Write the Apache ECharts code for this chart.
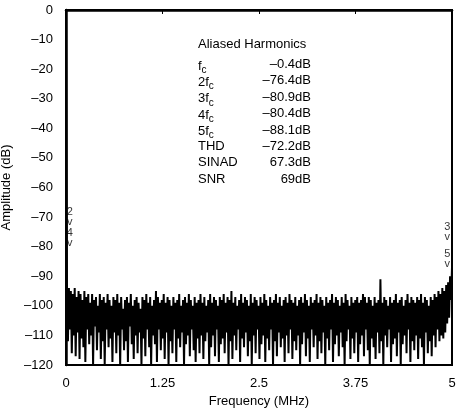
<!DOCTYPE html>
<html>
<head>
<meta charset="utf-8">
<script src="https://cdn.jsdelivr.net/npm/echarts@6/dist/echarts.min.js"></script>
<style>html,body{margin:0;padding:0;background:#fff}#c{width:456px;height:416px}</style>
</head>
<body>
<div id="c"></div>
<script>
// ---- data ----
const xTicks = [0, 1.25, 2.5, 3.75, 5];
const yTicks = [0, -10, -20, -30, -40, -50, -60, -70, -80, -90, -100, -110, -120];
const freqMax = 5; // MHz, span of the FFT record
// FFT magnitude (dB), evenly spaced bins from 0 to 5 MHz, estimated from the trace
const spectrum = [
-0.4,-93,-112,-94,-108,-95,-116,-96,-110,-94,-117,-97,-109,-95,-118,-96,-111,-98,-114,-95,
-119,-97,-108,-96,-113,-99,-110,-96,-120,-98,-107,-97,-115,-100,-109,-96,-118,-98,-112,-97,
-120,-99,-108,-96,-114,-98,-111,-100,-119,-97,-109,-98,-116,-96,-110,-99,-120,-97,-108,-101,
-115,-98,-112,-97,-119,-99,-107,-96,-113,-100,-118,-98,-110,-97,-116,-99,-109,-101,-120,-97,
-111,-98,-117,-96,-108,-99,-114,-97,-120,-100,-110,-98,-113,-95,-119,-97,-108,-99,-115,-98,
-111,-96,-118,-99,-109,-97,-120,-98,-112,-100,-116,-97,-108,-99,-119,-98,-111,-96,-114,-100,
-109,-98,-120,-97,-113,-99,-110,-96,-117,-98,-108,-100,-115,-97,-119,-99,-111,-98,-116,-96,
-110,-99,-118,-97,-112,-100,-109,-98,-120,-96,-114,-99,-110,-97,-117,-98,-108,-100,-119,-97,
-113,-98,-111,-96,-116,-99,-109,-97,-120,-98,-112,-95,-118,-99,-110,-97,-115,-100,-108,-98,
-119,-96,-111,-99,-114,-97,-109,-98,-117,-100,-112,-96,-120,-99,-110,-97,-116,-98,-108,-100,
-118,-97,-113,-99,-110,-96,-119,-98,-111,-100,-115,-97,-108,-99,-120,-98,-112,-96,-117,-99,
-109,-97,-114,-100,-111,-98,-119,-97,-110,-99,-116,-96,-108,-98,-118,-99,-112,-97,-115,-100,
-110,-98,-120,-97,-113,-99,-109,-96,-117,-98,-111,-100,-119,-97,-108,-99,-114,-98,-110,-96,
-118,-99,-112,-97,-116,-98,-109,-100,-120,-97,-111,-99,-115,-98,-108,-96,-119,-99,-113,-97,
-110,-98,-117,-100,-109,-97,-114,-99,-120,-96,-112,-98,-108,-100,-118,-97,-111,-99,-116,-98,
-109,-97,-119,-99,-113,-98,-110,-96,-117,-97,-108,-99,-115,-97,-120,-98,-111,-100,-114,-97,
-118,-99,-109,-98,-116,-91,-112,-99,-120,-97,-110,-98,-114,-100,-108,-97,-119,-99,-113,-98,
-111,-96,-117,-99,-109,-98,-120,-97,-113,-100,-110,-98,-116,-96,-108,-99,-119,-97,-112,-98,
-115,-99,-110,-97,-118,-98,-111,-96,-114,-99,-120,-97,-109,-98,-116,-100,-112,-97,-117,-98,
-110,-96,-114,-97,-108,-95,-112,-96,-110,-94,-111,-95,-109,-93,-106,-92,-104,-90,-98,-87
];
// harmonic markers: label, frequency (MHz), dB position of the marker
const markerLabels = ['2', '4', '3', '5'];
const markerFreq   = [0.05, 0.05, 4.94, 4.94];
const markerDb     = [-70, -77, -75, -84];
// table of results
const tableTitle = 'Aliased Harmonics';
const tableNames = ['f', '2f', '3f', '4f', '5f', 'THD', 'SINAD', 'SNR'];
const tableSubs  = ['c', 'c', 'c', 'c', 'c', '', '', ''];
const tableValues = ['–0.4dB', '–76.4dB', '–80.9dB', '–80.4dB', '–88.1dB', '–72.2dB', '67.3dB', '69dB'];

// ---- chart ----
const chart = echarts.init(document.getElementById('c'), null, {renderer: 'canvas'});
const FONT = 'Liberation Sans, Arial, Helvetica, sans-serif';
const lineData = spectrum.map((v, i) => [i * freqMax / (spectrum.length - 1), v]);
const markerData = markerLabels.map((l, i) => ({value: [markerFreq[i], markerDb[i]], name: l}));

const graphics = [{
  type: 'text', left: 198, top: 38,
  style: {text: tableTitle, font: '13px ' + FONT, fill: '#000'}
}];
tableNames.forEach((n, i) => {
  const y = 58 + i * 16.4;
  graphics.push({
    type: 'text', left: 198, top: y,
    style: {
      text: tableSubs[i] ? '{m|' + n + '}{s|' + tableSubs[i] + '}' : '{m|' + n + '}',
      rich: {
        m: {font: '13px ' + FONT, fill: '#000', verticalAlign: 'top', lineHeight: 14},
        s: {font: '10px ' + FONT, fill: '#000', padding: [7, 0, 0, 0], lineHeight: 14}
      }
    }
  });
  graphics.push({
    type: 'text', right: 456 - 311, top: y,
    style: {text: tableValues[i], font: '13px ' + FONT, fill: '#000', align: 'right'}
  });
});

chart.setOption({
  animation: false,
  backgroundColor: '#fff',
  grid: {left: 66, right: 4, top: 10, bottom: 51, outerBoundsMode: 'none', containLabel: false,
    show: true, borderColor: '#000', borderWidth: 2, backgroundColor: 'transparent'},
  xAxis: {
    type: 'value', min: xTicks[0], max: xTicks[xTicks.length - 1], interval: 1.25,
    name: 'Frequency (MHz)', nameLocation: 'middle', nameGap: 25,
    nameTextStyle: {fontFamily: FONT, fontSize: 13, color: '#000'},
    axisLine: {show: true, lineStyle: {color: '#000', width: 2.5}},
    axisTick: {show: true, length: 4, lineStyle: {color: '#000', width: 1}},
    axisLabel: {fontFamily: FONT, fontSize: 13, color: '#000', margin: 12,
      formatter: v => String(xTicks.find(t => Math.abs(t - v) < 1e-6) ?? v)},
    splitLine: {show: false}
  },
  yAxis: {
    type: 'value', min: yTicks[yTicks.length - 1], max: yTicks[0], interval: 10,
    name: 'Amplitude (dB)', nameLocation: 'middle', nameGap: 42, nameRotate: 90,
    nameTextStyle: {fontFamily: FONT, fontSize: 13, color: '#000'},
    axisLine: {show: true, lineStyle: {color: '#000', width: 2.5}},
    axisTick: {show: false},
    axisLabel: {fontFamily: FONT, fontSize: 13, color: '#000', margin: 13,
      formatter: v => String(v).replace('-', '–')},
    splitLine: {show: false}
  },
  series: [{
    type: 'line', data: lineData, showSymbol: false, symbol: 'none',
    lineStyle: {color: '#000', width: 2}, clip: true
  }, {
    type: 'scatter', data: markerData, symbolSize: 0,
    label: {show: true, position: 'inside', formatter: p => p.name + '\nv',
      fontFamily: FONT, fontSize: 11, color: '#000', lineHeight: 10}
  }],
  graphic: graphics
});
</script>
</body>
</html>
